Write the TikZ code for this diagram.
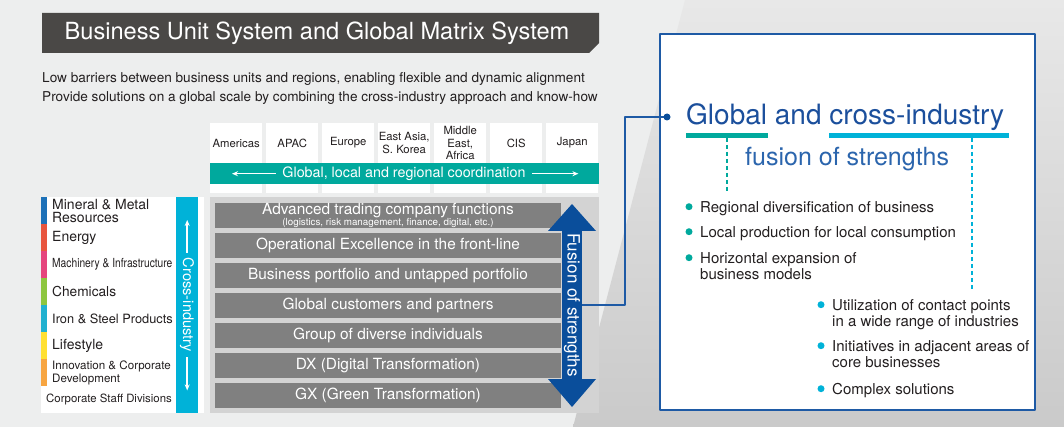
\documentclass[tikz,border=0pt]{standalone}
\usepackage{fontspec}
\setmainfont{TeX Gyre Heros}
\newfontfamily\condfont[FakeStretch=0.82]{TeX Gyre Heros}
\usetikzlibrary{arrows.meta,calc}
\definecolor{bggray}{HTML}{EDEEEE}
\definecolor{wedgetop}{HTML}{E8E8E8}
\definecolor{wedgebot}{HTML}{CACACA}
\definecolor{titlegray}{HTML}{4A4846}
\definecolor{textgray}{HTML}{231F20}
\definecolor{coordteal}{HTML}{00A99D}
\definecolor{xindcyan}{HTML}{00B2D8}
\definecolor{bargray}{HTML}{808080}
\definecolor{contgray}{HTML}{D3D3D3}
\definecolor{fusionblue}{HTML}{0A4E9B}
\definecolor{panelblue}{HTML}{1E5AA5}
\definecolor{headblue}{HTML}{1B4F9C}
\definecolor{subblue}{HTML}{2B65AD}
\definecolor{mmblue}{HTML}{1D71B8}
\definecolor{enred}{HTML}{E8553E}
\definecolor{mipink}{HTML}{E5457D}
\definecolor{chgreen}{HTML}{8DC63F}
\definecolor{iscyan}{HTML}{21B1D0}
\definecolor{lsyellow}{HTML}{FFE033}
\definecolor{icorange}{HTML}{F7A541}
\newcommand\fsz[2]{\fontsize{#1}{#2}\selectfont}

\begin{document}
\begin{tikzpicture}[x=1pt, y=-1pt, line join=round, >={Stealth[length=6pt,width=5pt]},
    lab/.style={anchor=west, align=left, inner sep=0pt, text=textgray},
    region/.style={fill=white, minimum width=52pt, minimum height=70pt, anchor=north west, inner sep=0pt},
    regtext/.style={align=center, inner sep=0pt, text=textgray, font=\fsz{11.3}{12.5}},
    bar/.style={fill=bargray, minimum width=346pt, minimum height=25pt, inner sep=0pt, text=white,
        align=center, font=\fsz{15.4}{10}},
    item/.style={anchor=north west, align=left, inner sep=0pt, text=textgray, font=\fsz{15}{16}},
    dashline/.style={line width=2.5pt, dash pattern=on 4pt off 3pt}]
    \useasboundingbox (0,0) rectangle (1064,427);
    % background
    \fill[bggray] (0,0) rectangle (1064,427);
    \shade[top color=wedgetop, bottom color=wedgebot] (685,0) -- (1064,0) -- (1064,427) -- (573,427) -- cycle;
    % title and intro
    \fill[titlegray] (42,13) -- (599,13) -- (599,43) -- (589,53) -- (42,53) -- cycle;
    \node[text=white, inner sep=0pt, font=\fsz{23.6}{24}] (title) at (317,33) {Business Unit System and Global Matrix System};
    \node[anchor=north west, align=left, inner sep=0pt, text=textgray, font=\fsz{13.6}{19}] (intro) at (42,72.2)
        {Low barriers between business units and regions, enabling flexible and dynamic alignment\\
         Provide solutions on a global scale by combining the cross-industry approach and know-how};
    % regions
    \foreach \name [count=\i] in {Americas, APAC, Europe, {East Asia,\\S. Korea}, {Middle\\East,\\Africa}, CIS, Japan} {
        \node[region] (reg\i) at ({210+56*(\i-1)},123) {};
        \node[regtext] (regname\i) at ($(reg\i.north)+(0,20)$) {\name};
    }
    \node[fill=coordteal, minimum width=389pt, minimum height=21pt, inner sep=0pt, anchor=north west] (coord) at (210,163) {};
    \draw[white, line width=1.5pt, <->] ($(coord.west)+(22,0)$) -- ($(coord.east)+(-21,0)$);
    \node[fill=coordteal, text=white, inner xsep=6pt, inner ysep=0pt, font=\fsz{14.3}{15}] (coordtxt) at (404,174) {Global, local and regional coordination};
    % business units
    \fill[white] (41,197) rectangle (204,413);
    \foreach \col [count=\i] in {mmblue, enred, mipink, chgreen, iscyan, lsyellow, icorange}
        \fill[\col] (41,{197+27*(\i-1)}) rectangle (47,{224+27*(\i-1)});
    \node[lab, font=\fsz{14}{12.5}] (unit1) at (52,211) {Mineral \& Metal\\Resources};
    \node[lab, font=\fsz{14}{14}] (unit2) at (52,237.5) {Energy};
    \node[lab, font=\condfont\fsz{12.5}{12}] (unit3) at (52,264.5) {Machinery \& Infrastructure};
    \node[lab, font=\fsz{13.7}{14}] (unit4) at (52,291.5) {Chemicals};
    \node[lab, font=\fsz{12.8}{13}] (unit5) at (52,318.5) {Iron \& Steel Products};
    \node[lab, font=\fsz{14}{14}] (unit6) at (52,345.5) {Lifestyle};
    \node[lab, font=\fsz{11.6}{12.5}] (unit7) at (52,373) {Innovation \& Corporate\\Development};
    \node[lab, font=\fsz{11.4}{12}] (unit8) at (46,399.5) {Corporate Staff Divisions};
    \node[fill=xindcyan, minimum width=22pt, minimum height=216pt, inner sep=0pt, anchor=north west] (xind) at (176,197) {};
    \draw[white, line width=1.5pt, <->] ($(xind.north)+(0,23)$) -- ($(xind.south)+(0,-23)$);
    \node[fill=xindcyan, text=white, rotate=-90, inner xsep=5pt, inner ysep=0pt, font=\fsz{14.6}{15}] (xindtxt) at (187,305) {Cross-industry};
    % strengths
    \fill[contgray] (210,197) rectangle (599,413);
    \foreach \txt [count=\i] in {{Advanced trading company functions\\\fsz{9.8}{10}(logistics, risk management, finance, digital, etc.)},
        Operational Excellence in the front-line, Business portfolio and untapped portfolio,
        Global customers and partners, Group of diverse individuals,
        DX (Digital Transformation), GX (Green Transformation)}
        \node[bar] (bar\i) at (388,{215.5+30*(\i-1)}) {\txt};
    \fill[fusionblue] (548,231) -- (572,204) -- (596,231) -- cycle;
    \fill[fusionblue] (548,379) -- (572,407) -- (596,379) -- cycle;
    \node[fill=fusionblue, text=white, rotate=-90, minimum width=152pt, minimum height=20pt, inner sep=0pt,
        font=\fsz{17}{17}] (fusion) at (572,305) {Fusion of strengths};
    % panel
    \node[draw=panelblue, line width=2pt, fill=white, minimum width=375pt, minimum height=376pt, inner sep=0pt,
        anchor=north west] (panel) at (659,33) {};
    \coordinate (dot) at (667,117);
    \coordinate (bend) at (625,117);
    \draw[panelblue, line width=2pt] (fusion.north) -| (bend) -- (dot);
    \fill[fusionblue] (dot) circle (3.5pt);
    \node[anchor=base west, inner sep=0pt, text=headblue, font=\fsz{28}{28}] (gci) at (686,125) {Global and cross-industry};
    \fill[coordteal] (686,133) rectangle (768,138);
    \fill[xindcyan] (829,133) rectangle (1009,138);
    \draw[coordteal, dashline] (727,138) -- (727,191);
    \draw[xindcyan, dashline] (972,138) -- (972,290);
    \node[anchor=base west, inner sep=0pt, text=subblue, font=\fsz{25}{25}] (fos) at (745,166) {fusion of strengths};
    % bullets
    \node[item] (reg1) at (700,201.2) {Regional diversification of business};
    \node[item] (reg2) at (700,226.2) {Local production for local consumption};
    \node[item] (reg3) at (700,252.2) {Horizontal expansion of\\business models};
    \node[item] (ind1) at (832,299.2) {Utilization of contact points\\in a wide range of industries};
    \node[item] (ind2) at (832,340.2) {Initiatives in adjacent areas of\\core businesses};
    \node[item] (ind3) at (832,383.2) {Complex solutions};
    \foreach \n in {reg1, reg2, reg3}
        \fill[coordteal] ($(\n.north west)+(-11,5.5)$) circle (3.5pt);
    \foreach \n in {ind1, ind2, ind3}
        \fill[xindcyan] ($(\n.north west)+(-11,5.5)$) circle (3.5pt);
\end{tikzpicture}
\end{document}
